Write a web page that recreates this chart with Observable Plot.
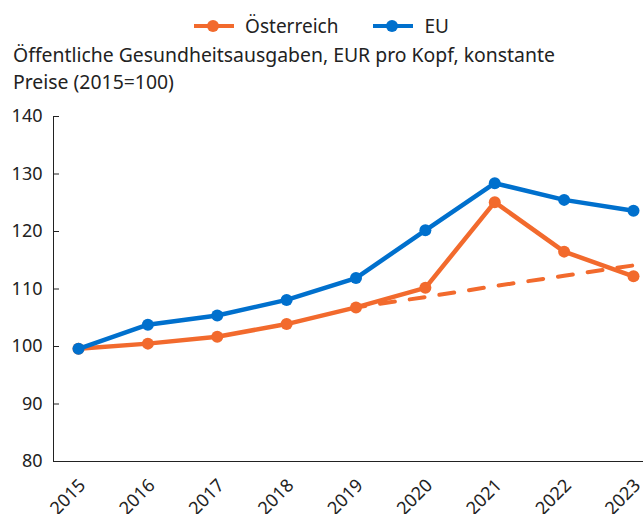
<!DOCTYPE html>
<html>
<head>
<meta charset="utf-8">
<script src="https://cdn.jsdelivr.net/npm/d3@7"></script>
<script src="https://cdn.jsdelivr.net/npm/@observablehq/plot@0.6"></script>
<style>
  body { margin: 0; background: #fff; font-family: "Noto Sans", Roboto, sans-serif; color: #222; }
  #wrap { position: relative; width: 643px; height: 514px; overflow: hidden; }
  #legend { position: absolute; top: 13px; left: 0; width: 643px; display: flex; justify-content: center; align-items: center; font-size: 19px; }
  .item { display: flex; align-items: center; margin: 0 17.5px; }
  .item svg { margin-right: 11px; }
  #title { position: absolute; left: 13px; top: 41px; font-size: 19.4px; line-height: 27px; }
  #chart { position: absolute; left: 0; top: 100px; }
</style>
</head>
<body>
<div id="wrap">
  <div id="legend"></div>
  <div id="title">Öffentliche Gesundheitsausgaben, EUR pro Kopf, konstante<br>Preise (2015=100)</div>
  <div id="chart"></div>
</div>
<script>
// ---- data ----
const years = [2015, 2016, 2017, 2018, 2019, 2020, 2021, 2022, 2023];
const austria = [99.6, 100.5, 101.7, 103.9, 106.8, 110.2, 125.1, 116.5, 112.2];
const eu = [99.6, 103.8, 105.4, 108.1, 111.9, 120.2, 128.4, 125.5, 123.6];
const trendYears = [2019, 2020, 2021, 2022, 2023];
const trendAustria = [106.8, 108.6, 110.5, 112.3, 114.1];
const yTicks = [80, 90, 100, 110, 120, 130, 140];
const seriesNames = ["Österreich", "EU"];
const seriesColors = ["#F26A2D", "#0070CD"];

// ---- legend ----
const legend = document.getElementById("legend");
seriesNames.forEach((name, i) => {
  const item = document.createElement("div");
  item.className = "item";
  item.innerHTML = `<svg width="40" height="14"><line x1="0" y1="7" x2="40" y2="7" stroke="${seriesColors[i]}" stroke-width="4"/><circle cx="19" cy="7" r="6" fill="${seriesColors[i]}"/></svg><span>${name}</span>`;
  legend.appendChild(item);
});

// ---- tables ----
const atData = years.map((y, i) => ({year: y, value: austria[i]}));
const euData = years.map((y, i) => ({year: y, value: eu[i]}));
const trendData = trendYears.map((y, i) => ({year: y, value: trendAustria[i]}));

const chart = Plot.plot({
  width: 643,
  height: 414,
  marginLeft: 53,
  marginRight: 0,
  marginTop: 16,
  marginBottom: 53,
  style: {fontFamily: "'Noto Sans', Roboto, sans-serif", fontSize: "18px", color: "#222", background: "transparent"},
  x: {domain: [2015, 2023], insetLeft: 25, insetRight: 10, label: null},
  y: {domain: [80, 140], label: null},
  marks: [
    Plot.frame({anchor: "left", stroke: "#222"}),
    Plot.frame({anchor: "bottom", stroke: "#222"}),
    Plot.axisY({ticks: yTicks, tickSize: -6, tickPadding: 17, fontSize: 18, stroke: "#222", label: null}),
    Plot.axisX({ticks: years, tickFormat: d => String(d), tickRotate: -45, tickSize: 0, tickPadding: 0,
                textAnchor: "end", lineAnchor: "top", dx: -1, dy: 16, fontSize: 18, label: null}),
    Plot.lineY(trendData, {x: "year", y: "value", stroke: seriesColors[0], strokeWidth: 4,
                strokeDasharray: "15,15", strokeDashoffset: 5.7}),
    Plot.lineY(atData, {x: "year", y: "value", stroke: seriesColors[0], strokeWidth: 4.5}),
    Plot.dot(atData, {x: "year", y: "value", fill: seriesColors[0], r: 6}),
    Plot.lineY(euData, {x: "year", y: "value", stroke: seriesColors[1], strokeWidth: 4.5}),
    Plot.dot(euData, {x: "year", y: "value", fill: seriesColors[1], r: 6})
  ]
});
document.getElementById("chart").appendChild(chart);
</script>
</body>
</html>
